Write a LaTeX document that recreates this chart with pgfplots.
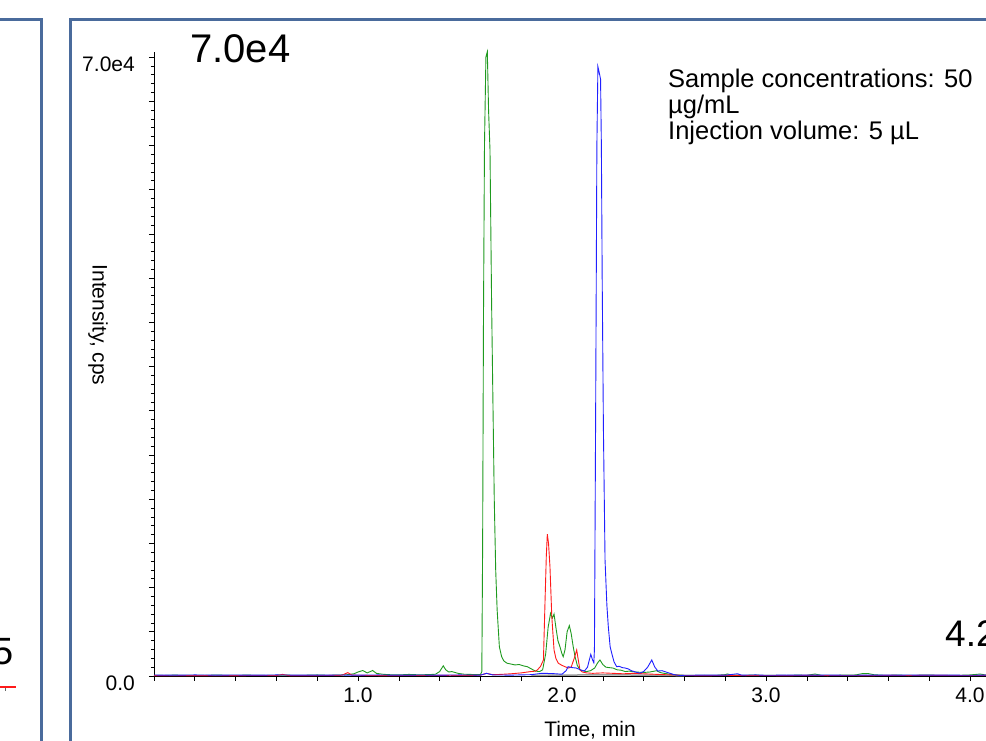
\documentclass[border=0pt]{standalone}
\usepackage{fontspec}
\setmainfont{Liberation Sans}
\usepackage{pgfplots}
\pgfplotsset{compat=1.18}
\definecolor{frameblue}{HTML}{4A6B9C}
\definecolor{trgreen}{HTML}{1F9A1F}
\definecolor{trred}{HTML}{FF1A1A}
\definecolor{trblue}{HTML}{2020FF}
\newcommand{\fs}[1]{\fontsize{#1}{#1}\selectfont}

\begin{document}
\begin{tikzpicture}[x=1pt,y=1pt]
\clip (0,0) rectangle (986,741);
% panel frames (the left panel is cut off by the crop)
\draw[frameblue, line width=3pt] (-10,721) -- (41.7,721) -- (41.7,-10);
\draw[frameblue, line width=3pt] (1100,721) -- (70.5,721) -- (70.5,-10);
% remains of the left panel
\node[anchor=base east, inner sep=0pt, font=\fs{38}] at (14,76) {5};
\draw[trred, line width=1.2pt] (-5,54) -- (16,54);
\draw[black!60, line width=0.6pt] (5,53) -- (5,50);

\begin{axis}[
    at={(154pt,65pt)}, anchor=south west,
    scale only axis, width=856.8pt, height=624.3pt,
    xmin=0, xmax=4.2, ymin=0, ymax=70600,
    clip=false, scaled y ticks=false,
    axis lines=left, axis line style={-, black, line width=0.7pt},
    tick align=outside,
    tick style={black, line width=0.6pt},
    major tick length=5pt, minor tick length=3pt,
    xtick={0,0.2,...,4.2},
    xticklabels={,,,,,1.0,,,,,2.0,,,,,3.0,,,,,4.0,},
    ytick={0,5000,...,70000},
    yticklabels={0.0,,,,,,,,,,,,,,7.0e4},
    minor y tick num=4,
    xticklabel style={font=\fs{21}, anchor=north, inner sep=0pt, yshift=-7pt},
    yticklabel style={font=\fs{21}, anchor=east, inner sep=0pt, xshift=-14pt, yshift=-7pt},
  ]
  % gray trace under the others
  \addplot[black!40, line width=1.5pt] coordinates {
    (1.85,60) (1.95,90) (2.05,110) (2.15,120) (2.25,130) (2.35,110) (2.45,90) (2.55,60) (2.6,30)
  };
  % green trace
  \addplot[trgreen, line width=0.9pt] coordinates {
    (0,80) (0.05,60) (0.1,100) (0.15,70) (0.2,90) (0.25,60) (0.3,110) (0.35,80) (0.4,70)
    (0.45,100) (0.5,80) (0.55,60) (0.6,90) (0.65,100) (0.7,70) (0.75,90) (0.8,120) (0.85,80)
    (0.9,100) (0.95,150) (0.98,250) (1.0,450) (1.023,620) (1.045,350) (1.072,620) (1.09,300)
    (1.12,200) (1.15,150) (1.2,120) (1.25,180) (1.3,130) (1.35,160) (1.38,200) (1.40,500)
    (1.418,1150) (1.43,700) (1.445,450) (1.46,500) (1.475,400) (1.49,300) (1.52,200) (1.55,180)
    (1.58,150) (1.60,150) (1.607,500) (1.611,15000) (1.615,40000) (1.620,60000) (1.627,70000)
    (1.634,70600) (1.640,64000) (1.647,59500) (1.655,42000) (1.662,30000) (1.668,19900)
    (1.675,12000) (1.682,7500) (1.693,3300) (1.704,2200) (1.715,1700) (1.73,1450) (1.75,1350)
    (1.77,1250) (1.79,1300) (1.81,1150) (1.83,1050) (1.85,800) (1.87,550) (1.89,500) (1.905,700)
    (1.92,2500) (1.932,5500) (1.944,7090) (1.953,6550) (1.961,7010) (1.97,5500) (1.98,4000)
    (1.99,3300) (2.0,2500) (2.006,2180) (2.015,3000) (2.025,5000) (2.036,5700) (2.045,4800)
    (2.055,3300) (2.064,2180) (2.075,1200) (2.088,700) (2.10,600) (2.12,500) (2.14,600)
    (2.16,900) (2.175,1500) (2.186,1810) (2.20,1300) (2.215,1000) (2.23,950) (2.25,900)
    (2.27,700) (2.29,650) (2.31,500) (2.33,550) (2.36,450) (2.40,400) (2.43,450) (2.464,600)
    (2.48,400) (2.50,300) (2.53,200) (2.56,120) (2.6,80) (2.65,60) (2.7,90) (2.75,70) (2.8,150)
    (2.81,230) (2.83,120) (2.88,80) (2.95,100) (3.0,70) (3.05,90) (3.1,60) (3.15,100) (3.2,80)
    (3.24,220) (3.27,90) (3.32,70) (3.38,100) (3.44,120) (3.47,260) (3.5,280) (3.53,140)
    (3.58,80) (3.65,100) (3.7,70) (3.75,90) (3.8,110) (3.85,70) (3.9,90) (3.95,80) (4.0,120)
    (4.05,220) (4.08,100) (4.15,80) (4.2,90)
  };
  % red trace
  \addplot[trred, line width=0.9pt] coordinates {
    (0,40) (0.1,30) (0.2,50) (0.3,30) (0.4,40) (0.5,60) (0.6,50) (0.63,180) (0.66,50)
    (0.75,40) (0.85,60) (0.92,80) (0.95,380) (0.97,100) (1.05,60) (1.15,40) (1.25,60)
    (1.35,50) (1.45,80) (1.55,60) (1.6,90) (1.63,300) (1.66,150) (1.7,180) (1.75,250)
    (1.8,350) (1.843,490) (1.87,550) (1.88,700) (1.895,1100) (1.909,1810) (1.917,8600)
    (1.923,13500) (1.928,16030) (1.934,15000) (1.941,12360) (1.95,6700) (1.961,2940)
    (1.97,2000) (1.982,1440) (2.0,1200) (2.015,1050) (2.03,900) (2.045,1000) (2.06,2000)
    (2.072,2940) (2.08,1800) (2.088,680) (2.10,450) (2.12,350) (2.15,300) (2.2,350)
    (2.25,300) (2.3,250) (2.35,300) (2.4,250) (2.45,200) (2.5,150) (2.55,120) (2.6,60)
    (2.7,40) (2.8,70) (2.9,50) (3.0,60) (3.1,40) (3.2,70) (3.3,50) (3.4,60) (3.5,40)
    (3.6,70) (3.7,50) (3.8,80) (3.9,60) (4.0,50) (4.1,70) (4.2,40)
  };
  % blue trace
  \addplot[trblue, line width=0.9pt] coordinates {
    (0,110) (0.1,90) (0.2,120) (0.3,100) (0.4,110) (0.5,90) (0.6,120) (0.7,100) (0.8,90)
    (0.9,110) (1.0,100) (1.1,120) (1.2,90) (1.3,110) (1.4,100) (1.5,120) (1.6,100)
    (1.63,300) (1.66,120) (1.75,100) (1.85,150) (1.9,300) (1.95,280) (2.0,200) (2.02,600)
    (2.03,1050) (2.05,950) (2.07,900) (2.09,700) (2.11,560) (2.125,1000) (2.135,1900)
    (2.141,2450) (2.15,1800) (2.156,1500) (2.159,3000) (2.165,30000) (2.171,60000)
    (2.176,68900) (2.182,68300) (2.189,67500) (2.193,60000) (2.197,45000) (2.203,28000)
    (2.211,13100) (2.22,8000) (2.227,5580) (2.236,3300) (2.244,2560) (2.255,1600)
    (2.268,1050) (2.28,1100) (2.295,950) (2.31,900) (2.325,800) (2.34,600) (2.36,450)
    (2.382,330) (2.40,500) (2.42,1000) (2.44,1810) (2.455,1000) (2.47,560) (2.49,600)
    (2.51,450) (2.53,300) (2.55,150) (2.58,50) (2.6,80) (2.7,100) (2.8,90) (2.86,250)
    (2.88,100) (2.95,120) (3.0,80) (3.1,100) (3.2,90) (3.3,110) (3.4,80) (3.5,100) (3.6,90)
    (3.7,110) (3.8,90) (3.9,100) (4.0,80) (4.1,110) (4.2,90)
  };
\end{axis}

% annotations
\node[anchor=base west, inner sep=0pt, font=\fs{40}] at (190,678) {7.0e4};
\node[anchor=base west, inner sep=0pt, font=\fs{37}] at (945,94.3) {4.2};
\begin{scope}[every node/.style={anchor=base west, inner sep=0pt, font=\fs{25.5}}]
  \node at (668,653) {Sample concentrations: 50};
  \node at (668,627) {µg/mL};
  \node at (668,601) {Injection volume: 5 µL};
\end{scope}
\node[anchor=base, inner sep=0pt, font=\fs{21}] at (590,4) {Time, min};
\node[rotate=-90, inner sep=0pt, font=\fs{21}] at (98,416) {Intensity, cps};
\end{tikzpicture}
\end{document}
